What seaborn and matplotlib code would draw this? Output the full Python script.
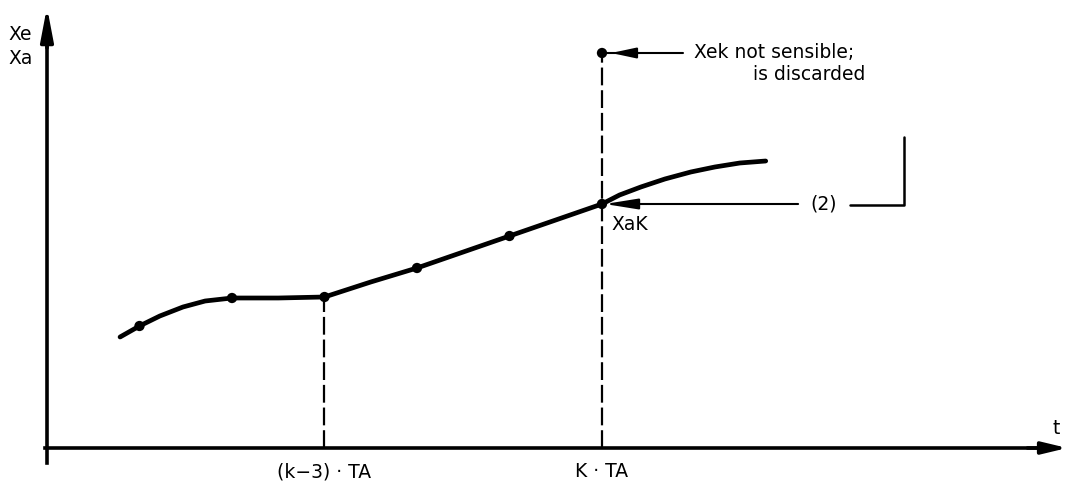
import matplotlib
matplotlib.use("Agg")
import matplotlib.pyplot as plt
import seaborn as sns
import pandas as pd

# Sample instants (in multiples of TA) and sampled actual values Xa
sample_t = [1, 2, 3, 4, 5, 6]
sample_x = [1.22, 1.50, 1.51, 1.80, 2.12, 2.44]

# Continuous course of the actual value
curve_t = [0.79, 1.0, 1.22, 1.47, 1.71, 2.0, 2.5, 3.0, 3.5, 4.0, 4.5, 5.0,
           5.5, 6.0, 6.19, 6.42, 6.68, 6.96, 7.22, 7.49, 7.77]
curve_x = [1.11, 1.22, 1.32, 1.41, 1.47, 1.50, 1.50, 1.51, 1.66, 1.80, 1.96, 2.12,
           2.28, 2.44, 2.53, 2.61, 2.69, 2.76, 2.81, 2.85, 2.87]

# Implausible measured value Xek at the last sampling instant
outlier_t = 6
outlier_x = 3.95

tick_pos = [1, 2, 3, 4, 5, 6]
tick_labels = ["", "", "(k\u22123) \u00b7 TA", "", "", "K \u00b7 TA"]

sns.set_theme(style="white")
plt.rcParams["font.family"] = ["DejaVu Sans"]
plt.rcParams["text.color"] = "black"

fig = plt.figure(figsize=(10.68, 4.87), dpi=100)
ax = fig.add_axes([0, 0, 1, 1])
ax.set_xlim(-0.508, 11.038)
ax.set_ylim(-0.39, 4.48)
ax.set_facecolor("white")

curve = pd.DataFrame({"t": curve_t, "x": curve_x})
samples = pd.DataFrame({"t": sample_t, "x": sample_x})

# Dashed guide lines down to the time axis
ax.vlines(sample_t[2], 0, sample_x[2], colors="black", lw=1.6,
          linestyles=(0, (8, 2.2)))
ax.vlines(outlier_t, 0, outlier_x, colors="black", lw=1.6,
          linestyles=(0, (8, 2.2)))

sns.lineplot(data=curve, x="t", y="x", sort=False, estimator=None,
             color="black", lw=3.4, ax=ax, solid_capstyle="round",
             solid_joinstyle="round")
sns.scatterplot(data=samples, x="t", y="x", color="black", s=55,
                edgecolor="none", ax=ax, zorder=5)
sns.scatterplot(x=[outlier_t], y=[outlier_x], color="black", s=55,
                edgecolor="none", ax=ax, zorder=5)

# Axes drawn as arrows through the origin
for side in ["top", "right"]:
    ax.spines[side].set_visible(False)
ax.spines["left"].set_position(("data", 0))
ax.spines["bottom"].set_position(("data", 0))
ax.spines["left"].set_bounds(-0.15, 4.2)
ax.spines["bottom"].set_bounds(-0.02, 10.9)
for side in ["left", "bottom"]:
    ax.spines[side].set_linewidth(2.6)
    ax.spines[side].set_color("black")

ax.set_yticks([])
ax.set_xticks(tick_pos)
ax.set_xticklabels(tick_labels, fontsize=13.5)
ax.tick_params(axis="x", direction="inout", length=8.6, width=1.6,
               colors="black", pad=6)
ax.set_xlabel("")
ax.set_ylabel("")

ax.annotate("", xy=(0, 4.41), xytext=(0, 4.0), annotation_clip=False,
            arrowprops=dict(arrowstyle="-|>,head_length=20,head_width=3.8",
                            mutation_scale=1, lw=2.6, color="black",
                            shrinkA=0, shrinkB=0))
ax.annotate("", xy=(11.03, 0), xytext=(10.6, 0), annotation_clip=False,
            arrowprops=dict(arrowstyle="-|>,head_length=15,head_width=3.6",
                            mutation_scale=1, lw=2.6, color="black",
                            shrinkA=0, shrinkB=0))

ax.text(-0.42, 4.13, "Xe", fontsize=13.5, ha="left", va="center")
ax.text(-0.42, 3.90, "Xa", fontsize=13.5, ha="left", va="center")
ax.text(10.91, 0.19, "t", fontsize=13.5, ha="center", va="center")

# Leader to the discarded measured value
ax.plot([outlier_t, 6.88], [outlier_x, outlier_x], color="black", lw=1.5)
ax.annotate("", xy=(6.10, outlier_x), xytext=(6.4, outlier_x),
            arrowprops=dict(arrowstyle="-|>,head_length=15,head_width=3.2",
                            mutation_scale=1, lw=1.5, color="black",
                            shrinkA=0, shrinkB=0))
ax.text(6.99, 3.95, "Xek not sensible;", fontsize=13.5, ha="left", va="center")
ax.text(8.85, 3.73, "is discarded", fontsize=13.5, ha="right", va="center")

# Leader (2) to the actual value XaK
ax.annotate("", xy=(6.03, sample_x[5]), xytext=(8.12, sample_x[5]),
            arrowprops=dict(arrowstyle="-|>,head_length=20,head_width=3.2",
                            mutation_scale=1, lw=1.5, color="black",
                            shrinkA=0, shrinkB=0))
ax.text(8.40, 2.44, "(2)", fontsize=13.5, ha="center", va="center")
ax.plot([8.68, 9.26, 9.26], [2.43, 2.43, 3.11], color="black", lw=1.8)
ax.text(6.10, 2.23, "XaK", fontsize=13.5, ha="left", va="center")

fig.savefig("out.png", dpi=100, facecolor="white")
